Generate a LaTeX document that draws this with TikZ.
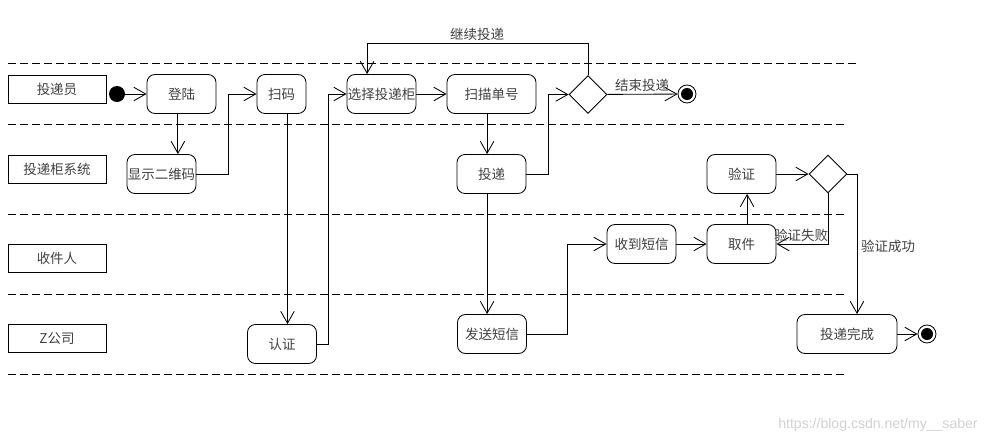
\documentclass[tikz,border=0pt]{standalone}
\usepackage{fontspec}
\setmainfont{Noto Sans CJK SC}
\newfontfamily\markfont{Liberation Sans}
\usetikzlibrary{arrows.meta}
\usetikzlibrary{shapes.geometric}
\tikzset{
    act/.style={rectangle, rounded corners=0.2cm, draw, line width=0.6pt, minimum width=1.725cm, minimum height=0.975cm, inner sep=0pt, text=black!75, font=\fontsize{9.6}{11}\selectfont},
    lane/.style={rectangle, draw, line width=0.6pt, minimum width=2.45cm, minimum height=0.7cm, inner sep=0pt, text=black!75, font=\fontsize{9.6}{11}\selectfont},
    choice/.style={diamond, draw, line width=0.6pt, minimum size=0.95cm, inner sep=0pt},
    startdot/.style={circle, fill, inner sep=0pt, minimum size=0.4cm},
    enddot/.style={circle, draw, line width=0.6pt, inner sep=0pt, minimum size=0.45cm, path picture={\fill (path picture bounding box.center) circle (0.15cm);}},
    flow/.style={line width=0.6pt, -{Straight Barb[length=3mm, width=3.4mm]}},
    tag/.style={inner sep=0pt, text=black!75, font=\fontsize{9.6}{11}\selectfont},
}
\begin{document}
\begin{tikzpicture}[x=0.025cm, y=-0.025cm]
    \useasboundingbox (0,0) rectangle (1001,442);

    % swimlane separators
    \draw[line width=0.6pt, dash pattern=on 2mm off 1mm] (8,63) -- (858,63);
    \foreach \ly in {124, 214, 294, 374}
        \draw[line width=0.6pt, dash pattern=on 2mm off 1mm] (8,\ly) -- (848,\ly);

    \node[lane] (l1) at (57,89) {投递员};
    \node[lane] (l2) at (57,169) {投递柜系统};
    \node[lane] (l3) at (57,258) {收件人};
    \node[lane] (l4) at (57,338) {Z公司};

    \node[startdot] (st) at (117,94) {};
    \node[act] (dl) at (181.5,94) {登陆};
    \node[act] (xs) at (161.5,174) {显示二维码};
    \node[act, minimum width=1.225cm] (sm) at (281.5,94) {扫码};
    \node[act] (rz) at (282,344) {认证};
    \node[act] (xz) at (381.5,94) {选择投递柜};
    \node[act, minimum width=2.225cm] (sd) at (491.5,94) {扫描单号};
    \node[act] (td) at (491.5,174) {投递};
    \node[choice] (d1) at (588,94.5) {};
    \node[enddot] (e1) at (687,94) {};
    \node[act] (fs) at (492,334) {发送短信};
    \node[act] (sx) at (641.5,244) {收到短信};
    \node[act] (qj) at (741.5,244) {取件};
    \node[act] (yz) at (741.5,174) {验证};
    \node[choice] (d2) at (828,174) {};
    \node[act, minimum width=2.5cm] (wc) at (847,334) {投递完成};
    \node[enddot] (e2) at (927,334) {};

    \draw[flow] (st) -- (dl);
    \draw[flow] ([xshift=-0.09cm]dl.south) -- ([xshift=-0.09cm]dl.south |- xs.north);
    \draw[flow] (xs.east) -- ++(32,0) |- (sm.west);
    \draw[flow] ([xshift=0.15cm]sm.south) -- ([xshift=0.15cm]sm.south |- rz.north);
    \draw[flow] (rz.east) -- ++(11,0) |- (xz.west);
    \draw[flow] (xz) -- (sd);
    \draw[flow] ([xshift=-0.11cm]sd.south) -- ([xshift=-0.11cm]sd.south |- td.north);
    \draw[flow] (td.east) -- ++(22,0) |- (d1.west);
    \draw[flow] (d1.north) -- ++(0,-32) -| ([xshift=-0.36cm]xz.north);
    \draw[flow] (d1) -- (e1);
    \draw[flow] ([xshift=-0.11cm]td.south) -- ([xshift=-0.11cm]td.south |- fs.north);
    \draw[flow] (fs.east) -- ++(40,0) |- (sx.west);
    \draw[flow] (sx) -- (qj);
    \draw[flow] ([xshift=0.14cm]qj.north) -- ([xshift=0.14cm]qj.north |- yz.south);
    \draw[flow] (yz) -- (d2);
    \draw[flow] (d2.south) |- (qj.east);
    \draw[flow] (d2.east) -| ([xshift=0.25cm]wc.north);
    \draw[flow] (wc) -- (e2);

    \node[tag] (t1) at (477,34) {继续投递};
    \node[tag] (t2) at (642,85) {结束投递};
    \node[tag] (t3) at (801,235) {验证失败};
    \node[tag] (t4) at (888,246) {验证成功};

    \node[inner sep=0pt, text=black!18, font=\markfont\fontsize{10}{12}\selectfont] (wm) at (878,425) {https://blog.csdn.net/my\_\_saber};
\end{tikzpicture}
\end{document}
